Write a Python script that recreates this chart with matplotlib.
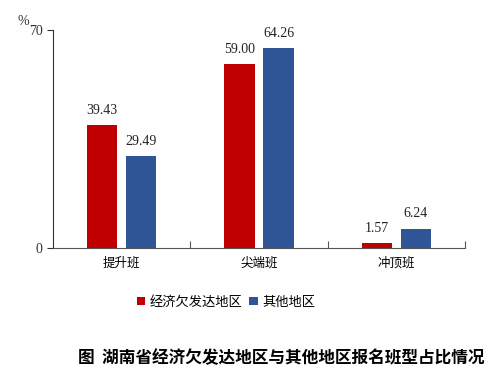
import numpy as np
import matplotlib
matplotlib.use("Agg")
import matplotlib.pyplot as plt

plt.rcParams["font.family"] = ["Noto Sans CJK SC", "DejaVu Sans"]

categories = ["提升班", "尖端班", "冲顶班"]
series_names = ["经济欠发达地区", "其他地区"]
poor_values = [39.43, 59.00, 1.57]
other_values = [29.49, 64.26, 6.24]
colors = ["#C00000", "#2F5597"]

fig = plt.figure(figsize=(5, 3.82), dpi=100)
ax = fig.add_axes([0.106, 0.351, 0.824, 0.570])

x = np.arange(len(categories))
w = 0.22
off = 0.142
b1 = ax.bar(x - off, poor_values, w, color=colors[0], label=series_names[0])
b2 = ax.bar(x + off, other_values, w, color=colors[1], label=series_names[1])

for bars, vals in [(b1, poor_values), (b2, other_values)]:
    for bar, v in zip(bars, vals):
        ax.annotate(f"{v:.2f}", (bar.get_x() + bar.get_width() / 2, v),
                    xytext=(0, 6), textcoords="offset points", ha="center", va="bottom",
                    fontsize=10, family="Liberation Serif", color="#222222")

ax.set_xlim(-0.5, 2.5)
ax.set_ylim(0, 70)
ax.set_yticks([0, 70])
ax.set_yticklabels(["0", "70"], family="Liberation Serif", fontsize=10, color="#333333")
ax.tick_params(axis="y", length=4, width=0.8, color="#333333")

ax.set_xticks(x)
ax.set_xticklabels(categories, fontsize=9)
ax.tick_params(axis="x", length=0, pad=6)
ax.set_xticks([0.5, 1.5, 2.5], minor=True)
ax.tick_params(axis="x", which="minor", direction="in", length=5, width=0.8, color="#555555")

for s in ["top", "right"]:
    ax.spines[s].set_visible(False)
ax.spines["left"].set_color("#333333")
ax.spines["bottom"].set_color("#555555")

fig.text(0.036, 0.935, "%", fontsize=10, family="Liberation Serif", color="#333333")

ax.legend(loc="upper center", bbox_to_anchor=(0.42, -0.165), ncol=2, frameon=False,
          fontsize=9.5, handlelength=0.65, handleheight=0.65, handletextpad=0.35,
          columnspacing=0.5)

fig.text(0.562, 0.063, "图  湖南省经济欠发达地区与其他地区报名班型占比情况",
         ha="center", va="center", fontsize=12, fontweight="bold")

fig.savefig("out.png", dpi=100)
